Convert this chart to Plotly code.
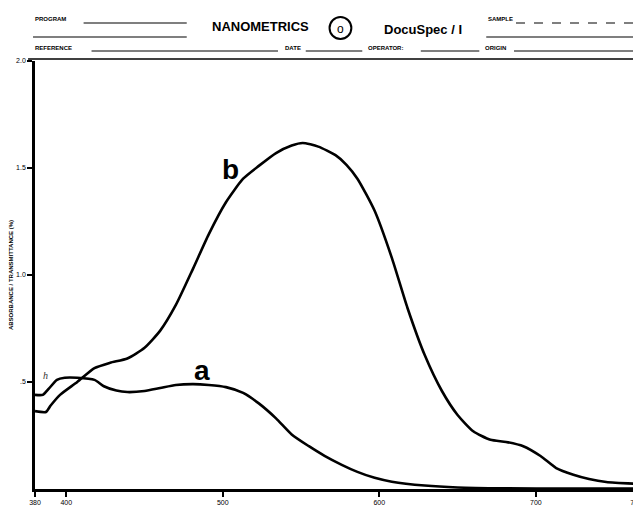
import plotly.graph_objects as go

# ---- data ----
wl_b = [380, 387, 390, 396, 407, 418, 428, 439, 450, 460, 470, 481, 491, 502, 513,
        523, 534, 544, 551, 561, 572, 579, 586, 597, 608, 618, 629, 640, 650, 660, 671,
        681, 692, 703, 713, 724, 734, 745, 763]
abs_b = [0.364, 0.36, 0.39, 0.44, 0.50, 0.565, 0.59, 0.61, 0.66, 0.74, 0.86, 1.03, 1.19,
         1.34, 1.45, 1.51, 1.57, 1.605, 1.617, 1.60, 1.56, 1.515, 1.45, 1.30, 1.08, 0.846,
         0.626, 0.458, 0.346, 0.27, 0.23, 0.22, 0.20, 0.154, 0.098, 0.067, 0.047, 0.033,
         0.025]

wl_a = [380, 385, 389, 394, 399, 407, 418, 424, 432, 439, 450, 460, 470, 481, 491, 502,
        513, 523, 534, 544, 555, 565, 576, 586, 597, 608, 629, 650, 680, 720, 763]
abs_a = [0.44, 0.44, 0.47, 0.51, 0.52, 0.52, 0.51, 0.48, 0.46, 0.453, 0.458, 0.472, 0.486,
         0.49, 0.486, 0.476, 0.449, 0.40, 0.33, 0.255, 0.20, 0.155, 0.113, 0.08, 0.052,
         0.034, 0.016, 0.007, 0.003, 0.002, 0.002]

x_tickvals = [380, 400, 500, 600, 700, 764]
x_ticktext = ["380", "400", "500", "600", "700", "760"]
y_tickvals = [0.5, 1.0, 1.5, 2.0]
y_ticktext = [".5", "1.0", "1.5", "2.0"]

W, H = 641, 505
L, R, T, B = 27, 633, 53, 481


def px(x):
    return (x - L) / (R - L)


def py(y):
    return (B - y) / (B - T)


fig = go.Figure()
fig.add_trace(go.Scatter(x=wl_b, y=abs_b, mode="lines", name="b",
                         line=dict(color="black", width=2.6, shape="spline", smoothing=0.6)))
fig.add_trace(go.Scatter(x=wl_a, y=abs_a, mode="lines", name="a",
                         line=dict(color="black", width=2.6, shape="spline", smoothing=0.6)))
# invisible trace for the right axis
fig.add_trace(go.Scatter(x=[wl_a[0]], y=[abs_a[0]], yaxis="y2", mode="lines",
                         line=dict(width=0), hoverinfo="skip", showlegend=False))

tickfont = dict(family="Liberation Sans", size=7, color="black")

fig.update_layout(
    width=W, height=H,
    margin=dict(l=L, r=W - R, t=T, b=H - B),
    paper_bgcolor="white", plot_bgcolor="white",
    showlegend=False,
    xaxis=dict(range=[380, 764], showgrid=False, zeroline=False, automargin=False,
               showline=True, linecolor="black", linewidth=2.5,
               tickmode="array", tickvals=x_tickvals, ticktext=x_ticktext,
               ticks="outside", ticklen=5, tickwidth=1.5, tickcolor="black",
               tickfont=tickfont),
    yaxis=dict(range=[0, 2.0], showgrid=False, zeroline=False, automargin=False,
               showline=True, linecolor="black", linewidth=2.5,
               tickmode="array", tickvals=y_tickvals, ticktext=y_ticktext,
               ticks="outside", ticklen=5, tickwidth=1.5, tickcolor="black",
               tickfont=tickfont,
               title=dict(text="<b>ABSORBANCE / TRANSMITTANCE (%)</b>",
                          font=dict(family="Liberation Sans", size=6, color="black"))),
    yaxis2=dict(range=[0, 2.0], overlaying="y", side="right", showgrid=False,
                zeroline=False, showline=True, linecolor="black", linewidth=2.5,
                tickmode="array", tickvals=[0.5, 1.0, 1.5], showticklabels=False,
                ticks="outside", ticklen=5, tickwidth=1.5, tickcolor="black"),
)

ann = []
# curve labels
ann.append(dict(x=505, y=1.495, xref="x", yref="y", text="<b>b</b>", showarrow=False,
                font=dict(family="Liberation Sans", size=28, color="black")))
ann.append(dict(x=487, y=0.556, xref="x", yref="y", text="<b>a</b>", showarrow=False,
                font=dict(family="Liberation Sans", size=28, color="black")))
ann.append(dict(x=387, y=0.53, xref="x", yref="y", text="<i>h</i>", showarrow=False,
                font=dict(family="Liberation Serif", size=10, color="#333")))

small = dict(family="Liberation Sans", size=6, color="black")
big = dict(family="Liberation Sans", size=13, color="black")


def label(x, y, t, f, anchor="left"):
    ann.append(dict(x=px(x), y=py(y), xref="paper", yref="paper", text=t,
                    showarrow=False, xanchor=anchor, yanchor="middle", font=f))


label(25, 11, "<b>PROGRAM</b>", small)
label(254, 19, "<b>NANOMETRICS</b>", big, "center")
label(335, 21, "o", dict(family="Liberation Sans", size=12, color="black"), "center")
label(418, 21, "<b>DocuSpec / I</b>", big, "center")
label(482, 11, "<b>SAMPLE</b>", small)
label(25, 40, "<b>REFERENCE</b>", small)
label(277, 40, "<b>DATE</b>", small)
label(361, 40, "<b>OPERATOR:</b>", small)
label(479, 40, "<b>ORIGIN</b>", small)

fig.update_layout(annotations=ann)

shapes = []


def hline(x0, x1, y, w=1.2, dash="solid"):
    shapes.append(dict(type="line", xref="paper", yref="paper",
                       x0=px(x0), x1=px(x1), y0=py(y), y1=py(y),
                       line=dict(color="black", width=w, dash=dash)))


hline(76, 180, 15)
hline(25, 180, 29)
hline(84, 272, 43)
hline(300, 357, 43)
hline(416, 475, 43)
hline(510, 633, 43)
hline(512, 633, 15, dash="dash")
hline(482, 633, 29)
hline(20, 633, 51, w=1.5)
# right-end long tick at bottom
shapes.append(dict(type="line", xref="paper", yref="paper",
                   x0=px(632), x1=px(632), y0=py(481), y1=py(494),
                   line=dict(color="black", width=2)))
# logo circle
shapes.append(dict(type="circle", xref="paper", yref="paper",
                   x0=px(324), x1=px(346), y0=py(9), y1=py(31),
                   line=dict(color="black", width=2)))
fig.update_layout(shapes=shapes)

fig.write_html("out.html")
